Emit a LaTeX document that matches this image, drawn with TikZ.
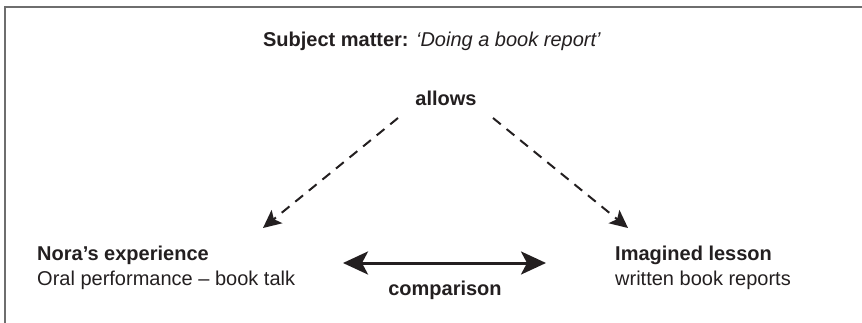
\documentclass[tikz,border=0pt]{standalone}
\usepackage{fontspec}
\setmainfont{Liberation Sans}
\usetikzlibrary{arrows.meta}
\definecolor{ink}{HTML}{231F20}
\definecolor{framegray}{HTML}{6E6E6E}
\begin{document}
\begin{tikzpicture}[x=1pt,y=-1pt,
  txt/.style={inner sep=0pt,text=ink,font=\fontsize{20}{24}\selectfont},
  bold/.style={txt,font=\fontsize{20}{24}\selectfont\bfseries},
  dasharrow/.style={draw=ink,line width=2pt,dash pattern=on 10pt off 7.5pt,-{Stealth[length=18pt,width=17pt,inset=4pt]}},
  bothway/.style={draw=ink,line width=3pt,{Stealth[length=25pt,width=23pt,inset=6pt]}-{Stealth[length=25pt,width=23pt,inset=6pt]}}]
\useasboundingbox (0,0) rectangle (862,323);
% frame (top and left edges)
\draw[framegray,line width=2pt] (5,323) -- (5,7) -- (862,7);
% texts
\node[txt,anchor=base] (subj) at (432,47) {\textbf{Subject matter:} \textit{‘Doing a book report’}};
\node[bold,anchor=base] (allows) at (446,106) {allows};
\node[bold,anchor=base west] (nora) at (37,261) {Nora’s experience};
\node[txt,anchor=base west] (noradesc) at (37,285) {Oral performance – book talk};
\node[bold,anchor=base west] (imag) at (615,261) {Imagined lesson};
\node[txt,anchor=base west] (imagdesc) at (615,285) {written book reports};
\node[bold,anchor=base] (comp) at (445,295) {comparison};
% connector ends
\coordinate (aLs) at (398,118);
\coordinate (aLe) at (263,228);
\coordinate (aRs) at (493,118);
\coordinate (aRe) at (628,228);
\coordinate (cL) at (343,263);
\coordinate (cR) at (546,263);
\draw[dasharrow] (aLs) -- (aLe);
\draw[dasharrow] (aRs) -- (aRe);
\draw[bothway] (cL) -- (cR);
\end{tikzpicture}
\end{document}
